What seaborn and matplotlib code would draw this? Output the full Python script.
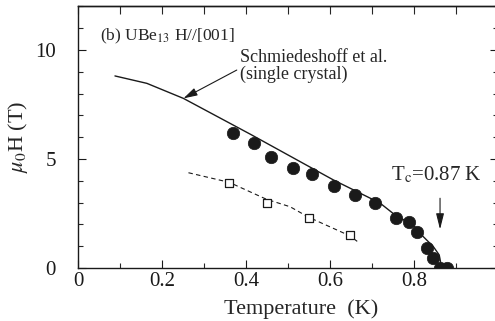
import matplotlib
matplotlib.use("Agg")
import matplotlib.pyplot as plt
import seaborn as sns
import numpy as np

# -----------------------------------------------------------
# datos
# -----------------------------------------------------------
# circulos llenos (H_c2)
temp_circ = [0.370, 0.419, 0.460, 0.511, 0.558, 0.610, 0.659, 0.708,
             0.757, 0.787, 0.808, 0.830, 0.846, 0.862, 0.878]
h_circ = [6.18, 5.72, 5.08, 4.60, 4.31, 3.76, 3.35, 2.97,
          2.28, 2.12, 1.67, 0.90, 0.44, 0.0, 0.0]

# cuadrados abiertos
temp_sq = [0.360, 0.449, 0.549, 0.648]
h_sq = [3.88, 3.00, 2.31, 1.50]

# curva de Schmiedeshoff et al. (linea continua)
temp_ref = [0.088, 0.164, 0.251, 0.410, 0.608, 0.719, 0.755, 0.798,
            0.822, 0.846, 0.860, 0.866]
h_ref = [8.81, 8.47, 7.78, 6.14, 4.04, 2.98, 2.43, 1.97,
         1.44, 0.98, 0.60, 0.0]

# linea discontinua por los cuadrados
temp_dash = [0.263, 0.360, 0.449, 0.505, 0.549, 0.648, 0.671]
h_dash = [4.37, 3.93, 3.15, 2.81, 2.33, 1.47, 1.13]

xticks = [0, 0.2, 0.4, 0.6, 0.8, 1.0]
xticklabels = ["0", "0.2", "0.4", "0.6", "0.8", "1"]
yticks = [0, 5, 10]

# -----------------------------------------------------------
# figura
# -----------------------------------------------------------
sns.set_theme(style="ticks")
plt.rcParams["font.family"] = ["Liberation Serif", "DejaVu Serif"]
plt.rcParams["mathtext.fontset"] = "stix"

fig = plt.figure(figsize=(4.95, 3.21), dpi=100)
ax = fig.add_axes([78 / 495, 53 / 321, 420 / 495, 261.6 / 321])

sns.lineplot(x=temp_ref, y=h_ref, color="k", lw=1.0, sort=False, ax=ax)
sns.lineplot(x=temp_dash, y=h_dash, color="k", lw=0.8, sort=False, ax=ax,
             linestyle=(0, (4, 3)))
sns.scatterplot(x=temp_circ, y=h_circ, color="k", s=80, marker="o",
                edgecolor="k", linewidth=0.5, ax=ax, zorder=3)
sns.scatterplot(x=temp_sq, y=h_sq, s=30, marker="s", facecolor="white",
                edgecolor="k", linewidth=0.9, ax=ax, zorder=3)

ax.set_xlim(0, 1.0)
ax.set_ylim(0, 12)
ax.set_xticks(xticks)
ax.set_xticklabels(xticklabels)
ax.set_yticks(yticks)
ax.set_xticks(np.arange(0, 1.01, 0.1), minor=True)
ax.set_yticks(np.arange(0, 12.1, 1), minor=True)

ax.tick_params(which="major", direction="in", length=6, width=0.8,
               labelsize=15, right=True, top=False, colors="k")
ax.tick_params(which="minor", direction="in", length=3.3, width=0.8,
               right=True, top=False)
ax.tick_params(axis="y", pad=16)
ax.tick_params(axis="x", pad=3)

# ticks superiores todos iguales
top = ax.secondary_xaxis("top")
top.set_xticks(np.arange(0, 1.01, 0.1))
top.tick_params(direction="in", length=6, width=0.8, labeltop=False)
top.set_xticklabels([])

for s in ax.spines.values():
    s.set_linewidth(1.0)
    s.set_color("k")
top.spines["top"].set_linewidth(1.0)

ax.set_xlabel("Temperature  (K)", fontsize=16)
ax.xaxis.set_label_coords(0.531, -0.118)
ax.set_ylabel(r"$\mu_0$H (T)", fontsize=16)
ax.yaxis.set_label_coords(-0.115, 0.50)

ax.text(0.052, 10.46, r"(b) UBe$_{13}$ H//[001]", fontsize=12.5,
        va="baseline", ha="left")

ax.text(0.386, 9.27, "Schmiedeshoff et al.\n(single crystal)", fontsize=13,
        va="center", ha="left", linespacing=0.95)
ax.annotate("", xy=(0.251, 7.78), xytext=(0.378, 9.08),
            arrowprops=dict(arrowstyle="-|>,head_length=0.7,head_width=0.2",
                            color="k", lw=0.8, shrinkA=0, shrinkB=0))

ax.text(0.746, 4.04, r"T$_\mathrm{c}$=0.87 K", fontsize=15,
        va="baseline", ha="left")
ax.annotate("", xy=(0.862, 1.77), xytext=(0.862, 3.2),
            arrowprops=dict(arrowstyle="-|>,head_length=0.8,head_width=0.2",
                            color="k", lw=0.8, shrinkA=0, shrinkB=0))

fig.savefig("out.png", dpi=100)
